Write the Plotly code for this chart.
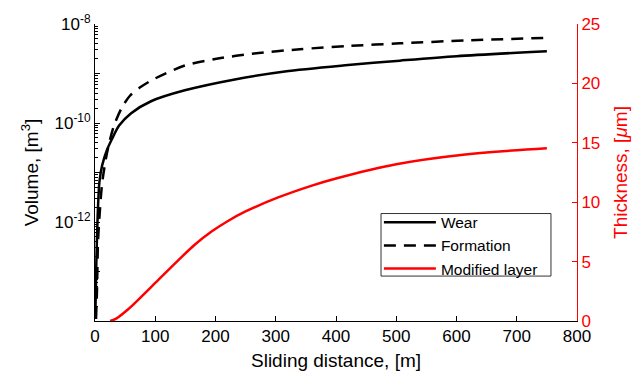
import plotly.graph_objects as go

# ---- data ----
wear_x = [0.5, 2.2, 4.5, 7.5, 12, 20, 28, 40, 60, 93, 149, 232, 315, 420, 506, 600, 750]
wear_v = [1.1e-14, 1.48e-13, 1.41e-12, 6.8e-12, 1.41e-11, 2.88e-11, 4.7e-11, 8.9e-11,
          1.58e-10, 2.75e-10, 4.57e-10, 7.59e-10, 1.10e-9, 1.48e-9, 1.82e-9, 2.24e-9, 2.82e-9]

form_x = [1.7, 3.3, 5, 8.5, 12, 20, 31, 45, 58, 75, 95, 149, 204, 261, 340, 420, 506, 620, 750]
form_v = [1.1e-14, 4.27e-14, 3.98e-13, 2.0e-12, 6.3e-12, 2.51e-11, 8.5e-11, 2.09e-10,
          3.55e-10, 5.25e-10, 7.41e-10, 1.45e-9, 2.0e-9, 2.51e-9, 3.09e-9, 3.59e-9,
          4.07e-9, 4.68e-9, 5.25e-9]

layer_x = [25, 35, 55, 80, 100, 138, 165, 194, 220, 249, 304, 360, 400, 500, 611, 750]
layer_t = [0, 0.2, 0.99, 2.2, 3.2, 5.1, 6.4, 7.55, 8.4, 9.2, 10.4, 11.4, 12.0, 13.2, 14.0, 14.55]

x_ticks = [0, 100, 200, 300, 400, 500, 600, 700, 800]
y_major = [1e-14, 1e-13, 1e-12, 1e-11, 1e-10, 1e-9, 1e-8]
y_major_text = ["", "", "10<sup>-12</sup>", "", "10<sup>-10</sup>", "", "10<sup>-8</sup>"]
y_minor = [m * 10.0 ** e for e in range(-14, -8) for m in range(2, 10)]
y2_ticks = [0, 5, 10, 15, 20, 25]

FONT = "Liberation Sans, Arial, sans-serif"

fig = go.Figure()
fig.add_trace(go.Scatter(x=wear_x, y=wear_v, mode="lines", name="Wear",
                         line=dict(color="black", width=2.5, shape="spline", smoothing=0.8),
                         yaxis="y"))
fig.add_trace(go.Scatter(x=form_x, y=form_v, mode="lines", name="Formation",
                         line=dict(color="black", width=2.5, dash="12px,8px",
                                   shape="spline", smoothing=0.8),
                         yaxis="y"))
fig.add_trace(go.Scatter(x=layer_x, y=layer_t, mode="lines", name="Modified layer",
                         line=dict(color="red", width=2.5, shape="spline", smoothing=1.0),
                         yaxis="y2"))

# legend frame (drawn as a shape so its size matches the reference)
fig.add_shape(type="rect", xref="paper", yref="paper",
              x0=0.5934, x1=0.946, y0=0.1513, y1=0.3618,
              line=dict(color="#333", width=1), fillcolor="white", layer="above")

fig.update_layout(
    width=641, height=380,
    margin=dict(l=95, r=64, t=18, b=58),
    plot_bgcolor="white", paper_bgcolor="white",
    font=dict(family=FONT, size=17, color="black"),
    showlegend=True,
    legend=dict(x=0.589, y=0.119, xanchor="left", yanchor="bottom",
                bgcolor="rgba(0,0,0,0)", borderwidth=0,
                font=dict(family=FONT, size=15.5, color="black"),
                tracegroupgap=0, itemwidth=52),
    xaxis=dict(range=[0, 800], tickvals=x_ticks, ticks="inside", ticklen=5,
               tickcolor="black", showline=True, linecolor="black", linewidth=1,
               showgrid=False, zeroline=False,
               title=dict(text="Sliding distance, [m]", font=dict(size=19), standoff=8),
               tickfont=dict(size=17)),
    yaxis=dict(type="log", range=[-14, -8], tickmode="array", tickvals=y_major,
               ticktext=y_major_text, ticks="inside", ticklen=5, tickcolor="black",
               showline=True, linecolor="black", linewidth=1, showgrid=False,
               zeroline=False,
               minor=dict(tickmode="array", tickvals=y_minor, ticks="inside",
                          ticklen=3, tickcolor="black", showgrid=False),
               title=dict(text="Volume, [m<sup>3</sup>]", font=dict(size=19), standoff=10),
               tickfont=dict(size=17)),
    yaxis2=dict(overlaying="y", side="right", range=[0, 25], tickvals=y2_ticks,
                ticks="inside", ticklen=5, tickcolor="red", showline=True,
                linecolor="red", linewidth=1, showgrid=False, zeroline=False,
                tickfont=dict(size=17, color="red"),
                title=dict(text="Thickness, [<i>\u03bc</i>m]",
                           font=dict(size=19, color="red"), standoff=14)),
)

fig.write_html("out.html")
